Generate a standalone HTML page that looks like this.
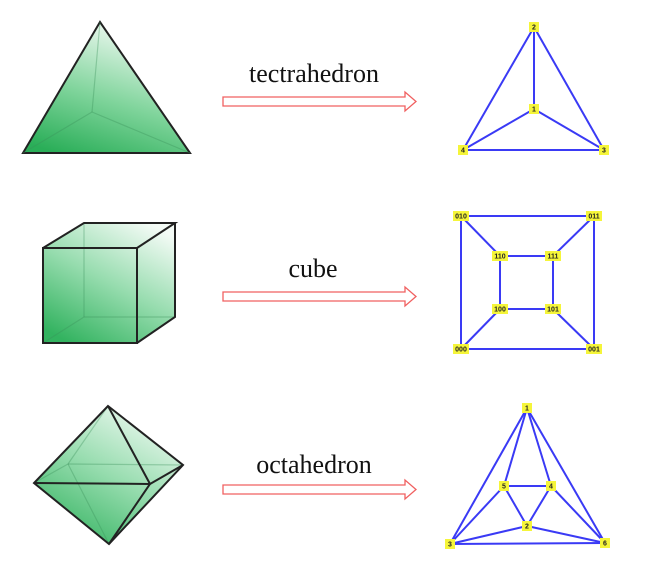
<!DOCTYPE html>
<html><head><meta charset="utf-8"><style>
body{margin:0;background:#fff;}
svg text.l{font-family:"Liberation Serif",serif;font-size:26px;fill:#111;}
svg text.n{font-family:"Liberation Sans",sans-serif;font-size:7px;font-weight:bold;fill:#222;text-anchor:middle;}
</style></head><body>
<svg width="646" height="567" viewBox="0 0 646 567" xmlns="http://www.w3.org/2000/svg">
<defs>
<linearGradient id="g1" x1="0.6" y1="0" x2="0.2" y2="1"><stop offset="0" stop-color="#f2faf4"/><stop offset="0.55" stop-color="#7fd49b"/><stop offset="1" stop-color="#2aae58"/></linearGradient>
<linearGradient id="g2" x1="0.8" y1="0" x2="0.2" y2="1"><stop offset="0" stop-color="#f4fbf6"/><stop offset="0.5" stop-color="#96dcae"/><stop offset="1" stop-color="#33b360"/></linearGradient>
</defs>
<!-- tetrahedron -->
<polygon points="100,22 23,153 190,153" fill="url(#g1)" stroke="#222" stroke-width="2"/>
<g stroke="#3a8f5a" stroke-opacity="0.35" stroke-width="1.2"><line x1="100" y1="22" x2="92" y2="112"/><line x1="92" y1="112" x2="23" y2="153"/><line x1="92" y1="112" x2="190" y2="153"/></g>
<!-- cube -->
<polygon points="43,248 84,223 175,223 175,317 137,343 43,343" fill="url(#g2)"/>
<g stroke="#3a8f5a" stroke-opacity="0.35" stroke-width="1.2"><line x1="84" y1="223" x2="84" y2="317"/><line x1="84" y1="317" x2="175" y2="317"/><line x1="84" y1="317" x2="43" y2="343"/></g>
<g fill="none" stroke="#222" stroke-width="2"><polygon points="43,248 137,248 137,343 43,343"/><polyline points="43,248 84,223 175,223 137,248"/><polyline points="175,223 175,317 137,343"/></g>
<!-- octahedron -->
<polygon points="108,406 183,465 109,544 34,483" fill="url(#g2)"/>
<g stroke="#3a8f5a" stroke-opacity="0.35" stroke-width="1.2"><line x1="108" y1="406" x2="68" y2="464"/><line x1="68" y1="464" x2="183" y2="465"/><line x1="68" y1="464" x2="34" y2="483"/><line x1="68" y1="464" x2="109" y2="544"/></g>
<g fill="none" stroke="#222" stroke-width="2"><polygon points="108,406 183,465 109,544 34,483"/><polyline points="108,406 150,484 109,544"/><polyline points="34,483 150,484 183,465"/></g>
<!-- labels & arrows -->
<text class="l" x="314" y="82" text-anchor="middle">tectrahedron</text>
<text class="l" x="313" y="277" text-anchor="middle">cube</text>
<text class="l" x="314" y="473" text-anchor="middle">octahedron</text>
<g fill="#fff" stroke="#f06060" stroke-width="1.3">
<polygon points="223,97 405,97 405,92 416,101.5 405,111 405,106 223,106"/>
<polygon points="223,292 405,292 405,287 416,296.5 405,306 405,301 223,301"/>
<polygon points="223,485 405,485 405,480 416,489.5 405,499 405,494 223,494"/>
</g>
<!-- graphs -->
<g stroke="#3a3af5" stroke-width="2">
<line x1="534" y1="27" x2="534" y2="109"/><line x1="534" y1="27" x2="463" y2="150"/><line x1="534" y1="27" x2="604" y2="150"/><line x1="534" y1="109" x2="463" y2="150"/><line x1="534" y1="109" x2="604" y2="150"/><line x1="463" y1="150" x2="604" y2="150"/>
<polygon fill="none" points="461,216 594,216 594,349 461,349"/><polygon fill="none" points="500,256 553,256 553,309 500,309"/>
<line x1="461" y1="216" x2="500" y2="256"/><line x1="594" y1="216" x2="553" y2="256"/><line x1="461" y1="349" x2="500" y2="309"/><line x1="594" y1="349" x2="553" y2="309"/>
<line x1="527" y1="408" x2="504" y2="486"/><line x1="527" y1="408" x2="551" y2="486"/><line x1="527" y1="408" x2="450" y2="544"/><line x1="527" y1="408" x2="605" y2="543"/>
<line x1="504" y1="486" x2="551" y2="486"/><line x1="504" y1="486" x2="527" y2="526"/><line x1="551" y1="486" x2="527" y2="526"/><line x1="504" y1="486" x2="450" y2="544"/><line x1="551" y1="486" x2="605" y2="543"/>
<line x1="527" y1="526" x2="450" y2="544"/><line x1="527" y1="526" x2="605" y2="543"/><line x1="450" y1="544" x2="605" y2="543"/>
</g>
<g fill="#f5f53a">
<rect x="529" y="22" width="10" height="10"/><rect x="529" y="104" width="10" height="10"/><rect x="458" y="145" width="10" height="10"/><rect x="599" y="145" width="10" height="10"/>
<rect x="453" y="211" width="16" height="10"/><rect x="586" y="211" width="16" height="10"/><rect x="492" y="251" width="16" height="10"/><rect x="545" y="251" width="16" height="10"/><rect x="492" y="304" width="16" height="10"/><rect x="545" y="304" width="16" height="10"/><rect x="453" y="344" width="16" height="10"/><rect x="586" y="344" width="16" height="10"/>
<rect x="522" y="403" width="10" height="10"/><rect x="499" y="481" width="10" height="10"/><rect x="546" y="481" width="10" height="10"/><rect x="522" y="521" width="10" height="10"/><rect x="445" y="539" width="10" height="10"/><rect x="600" y="538" width="10" height="10"/>
</g>
<g>
<text class="n" x="534" y="29.5">2</text><text class="n" x="534" y="111.5">1</text><text class="n" x="463" y="152.5">4</text><text class="n" x="604" y="152.5">3</text>
<text class="n" x="461" y="218.5">010</text><text class="n" x="594" y="218.5">011</text><text class="n" x="500" y="258.5">110</text><text class="n" x="553" y="258.5">111</text><text class="n" x="500" y="311.5">100</text><text class="n" x="553" y="311.5">101</text><text class="n" x="461" y="351.5">000</text><text class="n" x="594" y="351.5">001</text>
<text class="n" x="527" y="410.5">1</text><text class="n" x="504" y="488.5">5</text><text class="n" x="551" y="488.5">4</text><text class="n" x="527" y="528.5">2</text><text class="n" x="450" y="546.5">3</text><text class="n" x="605" y="545.5">6</text>
</g>
</svg>
</body></html>
